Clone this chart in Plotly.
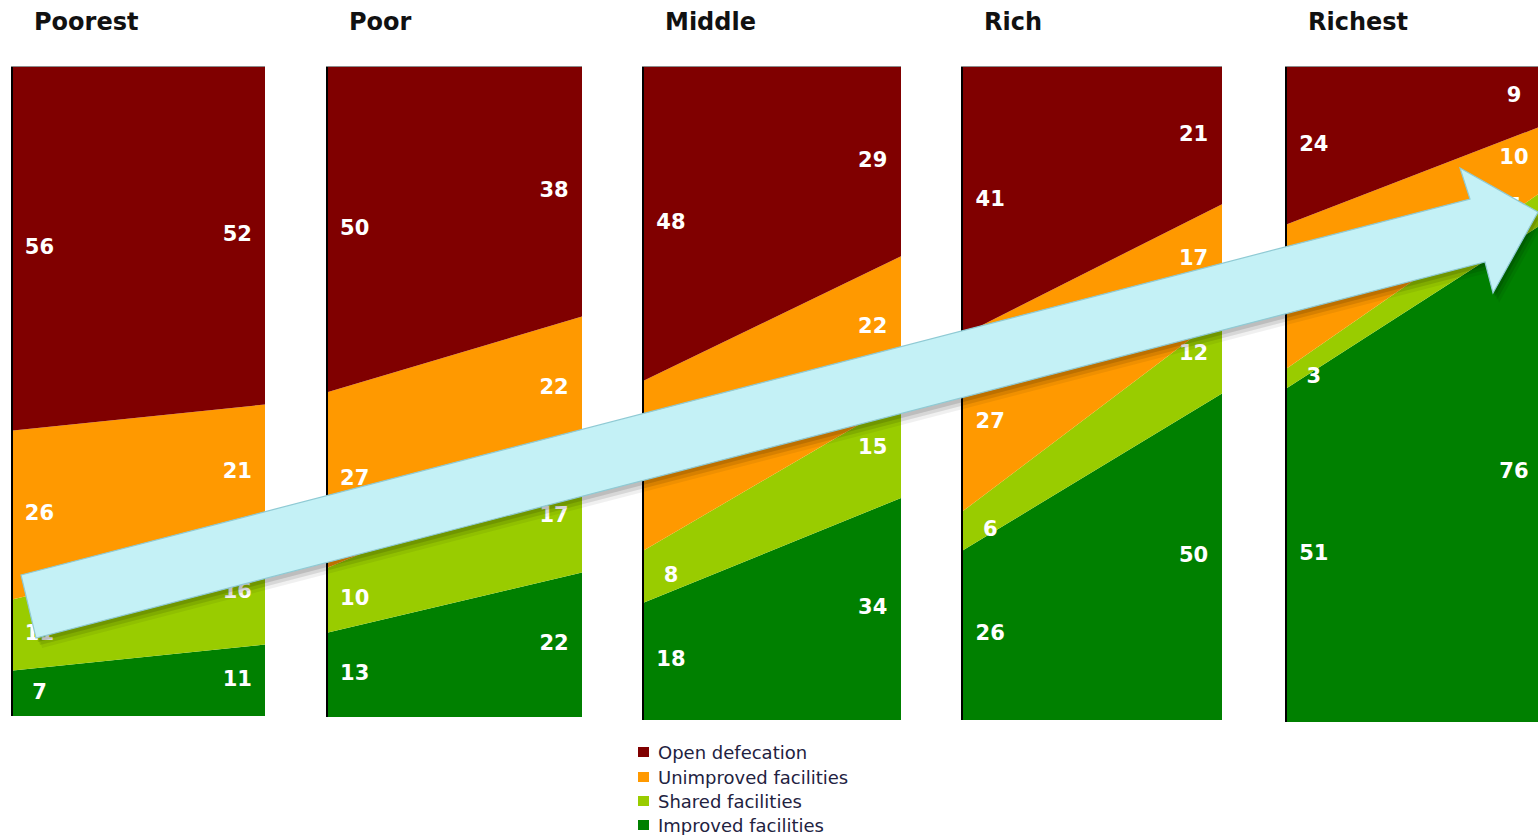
import plotly.graph_objects as go

W, H = 1538, 835

# ---------------- data ----------------
groups = ["Poorest", "Poor", "Middle", "Rich", "Richest"]
categories = ["Improved facilities", "Shared facilities", "Unimproved facilities", "Open defecation"]
improved_start = [7, 13, 18, 26, 51]
improved_end = [11, 22, 34, 50, 76]
shared_start = [11, 10, 8, 6, 3]
shared_end = [16, 17, 15, 12, 5]
unimproved_start = [26, 27, 26, 27, 22]
unimproved_end = [21, 22, 22, 17, 10]
open_start = [56, 50, 48, 41, 24]
open_end = [52, 38, 29, 21, 9]
legend_order = ["Open defecation", "Unimproved facilities", "Shared facilities", "Improved facilities"]

colors = {
    "Improved facilities": "#008000",
    "Shared facilities": "#99CC00",
    "Unimproved facilities": "#FF9900",
    "Open defecation": "#800000",
}

starts = [improved_start, shared_start, unimproved_start, open_start]
ends = [improved_end, shared_end, unimproved_end, open_end]

# ---------------- layout geometry (pixels) ----------------
panel_px = [(13, 265, 716), (328, 582, 717), (644, 901, 720), (963, 1222, 720), (1287, 1542, 722)]
TOP = 67


def X(px):
    return px / W


def Y(py):
    return 1 - py / H


fig = go.Figure()
layout_axes = {}

for i, g in enumerate(groups):
    xs = "x" if i == 0 else f"x{i+1}"
    ys = "y" if i == 0 else f"y{i+1}"
    left, right, bottom = panel_px[i]
    xr_end = 1.0
    dom_right = X(right)
    if dom_right > 1:
        xr_end = (W - left) / (right - left)
        dom_right = 1.0

    # stacked areas
    for k, cat in enumerate(categories):
        fig.add_trace(go.Scatter(
            x=[0, 1], y=[starts[k][i], ends[k][i]],
            stackgroup=f"g{i}", groupnorm="percent",
            mode="lines", line=dict(width=0, color=colors[cat]),
            fillcolor=colors[cat], name=cat, showlegend=False,
            hoverinfo="skip", xaxis=xs, yaxis=ys,
        ))

    # value labels at segment midpoints (normalised)
    lx, ly, lt = [], [], []
    for arr, xpos in ((starts, 0.105), (ends, 0.89)):
        vals = [arr[k][i] for k in range(4)]
        tot = sum(vals)
        cum = 0
        for v in vals:
            pv = v * 100 / tot
            lx.append(xpos)
            ly.append(cum + pv / 2)
            lt.append(str(v))
            cum += pv
    fig.add_trace(go.Scatter(
        x=lx, y=ly, text=lt, mode="text", textposition="middle center",
        textfont=dict(family="DejaVu Sans", size=21, color="white", weight="bold"),
        showlegend=False, hoverinfo="skip", xaxis=xs, yaxis=ys, cliponaxis=True,
    ))

    layout_axes["xaxis" if i == 0 else f"xaxis{i+1}"] = dict(
        domain=[X(left), dom_right], range=[0, xr_end], anchor=ys, side="top",
        showgrid=False, zeroline=False, showticklabels=False, ticks="",
        showline=True, linecolor="#8c8c8c", linewidth=1, fixedrange=True,
    )
    layout_axes["yaxis" if i == 0 else f"yaxis{i+1}"] = dict(
        domain=[Y(bottom), Y(TOP)], range=[0, 100], anchor=xs,
        showgrid=False, zeroline=False, showticklabels=False, ticks="",
        showline=True, linecolor="#000000", linewidth=2, fixedrange=True,
    )

annotations = []
for i, g in enumerate(groups):
    annotations.append(dict(
        text=g, xref="paper", yref="paper", x=X(panel_px[i][0] + 19), y=Y(22),
        xanchor="left", yanchor="middle", showarrow=False,
        font=dict(family="DejaVu Sans", size=24, color="#111111", weight="bold"),
    ))

# legend (manual)
shapes = []
leg_y = [752, 777, 801, 825]
for j, cat in enumerate(legend_order):
    cy = leg_y[j]
    shapes.append(dict(type="rect", xref="paper", yref="paper",
                       x0=X(638), x1=X(649), y0=Y(cy + 5), y1=Y(cy - 5),
                       fillcolor=colors[cat], line=dict(width=0)))
    annotations.append(dict(
        text=cat, xref="paper", yref="paper", x=X(656), y=Y(cy),
        xanchor="left", yanchor="middle", showarrow=False,
        font=dict(family="DejaVu Sans", size=18, color="#22223f"),
    ))

# big arrow overlay
arrow_pts = [(21, 575), (1470, 199), (1460, 168), (1538, 212), (1493, 293), (1485, 262), (36, 638)]


def path(pts, dx=0, dy=0):
    return "M " + " L ".join(f"{X(x + dx):.5f},{Y(y + dy):.5f}" for x, y in pts) + " Z"


for dx, dy, a in ((2, 4, 0.12), (4, 7, 0.10), (6, 10, 0.06)):
    shapes.append(dict(type="path", xref="paper", yref="paper", path=path(arrow_pts, dx, dy),
                       fillcolor=f"rgba(0,0,0,{a})", line=dict(width=0), layer="above"))
shapes.append(dict(type="path", xref="paper", yref="paper", path=path(arrow_pts),
                   fillcolor="#C4F1F6", line=dict(width=1.2, color="#8FCAD4"), layer="above"))

fig.update_layout(
    width=W, height=H, margin=dict(l=0, r=0, t=0, b=0),
    paper_bgcolor="white", plot_bgcolor="white",
    showlegend=False, annotations=annotations, shapes=shapes,
    **layout_axes,
)

fig.write_html(
    "out.html",
    config={"displayModeBar": False},
    post_script="document.body.style.margin='0';document.body.style.overflow='hidden';",
)
